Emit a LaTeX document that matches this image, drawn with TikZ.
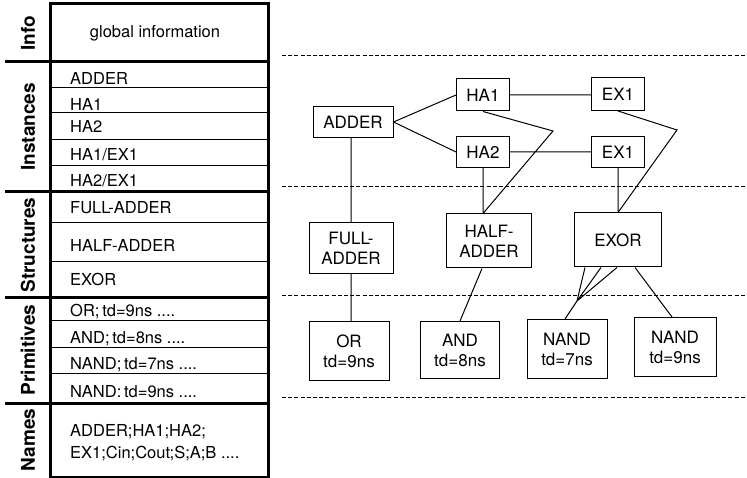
\documentclass[tikz,border=0pt]{standalone}
\usepackage{fontspec}
\setmainfont{TeX Gyre Heros}

\begin{document}
\begin{tikzpicture}[x=1pt,y=-1pt,
        box/.style={draw,line width=1pt,inner sep=0pt,align=center,
          font=\fontsize{17}{20}\selectfont},
        entry/.style={anchor=base west,inner sep=0pt,font=\fontsize{16.5}{19}\selectfont},
        part/.style={rotate=90,inner sep=0pt,font=\bfseries\fontsize{19}{22}\selectfont},
        rule/.style={line width=3pt},
        level/.style={line width=1pt,dash pattern=on 4pt off 2.2pt}]
        \useasboundingbox (0,0) rectangle (747,478);
        % the table
        \draw[rule] (50,4) -- (268,4) -- (268,477) -- (50,477) -- cycle;
        \draw[rule] (5,62) -- (268,62) (5,192) -- (268,192)
              (5,298) -- (268,298) (5,403) -- (268,403);
        \draw[line width=1pt] (50,88) -- (268,88) (50,113) -- (268,113)
              (50,140) -- (268,140) (50,166) -- (268,166)
              (50,223) -- (268,223) (50,262) -- (268,262)
              (50,321) -- (268,321) (50,347) -- (268,347) (50,373) -- (268,373);
        \node[part] (l1) at (28,33) {Info};
        \node[part] (l2) at (28,127) {Instances};
        \node[part] (l3) at (28,245) {Structures};
        \node[part] (l4) at (28,350) {Primitives};
        \node[part] (l5) at (28,440) {Names};
        \node[inner sep=0pt,font=\fontsize{16.5}{19}\selectfont] (t0) at (155,33) {global information};
        \node[entry] (t1) at (70,85) {ADDER};
        \node[entry] (t2) at (70,111) {HA1};
        \node[entry] (t3) at (70,133) {HA2};
        \node[entry] (t4) at (70,161) {HA1/EX1};
        \node[entry] (t5) at (70,187) {HA2/EX1};
        \node[entry] (t6) at (70,214) {FULL-ADDER};
        \node[entry] (t7) at (70,252) {HALF-ADDER};
        \node[entry] (t8) at (70,286) {EXOR};
        \node[entry] (t9) at (70,317) {OR;\,td=9ns ....};
        \node[entry] (t10) at (70,343) {AND;\,td=8ns ....};
        \node[entry] (t11) at (70,370) {NAND;\,td=7ns ....};
        \node[entry] (t12) at (70,397) {NAND:\,td=9ns ....};
        \node[entry] (t13) at (70,436) {ADDER;HA1;HA2;};
        \node[entry] (t14) at (70,458) {EX1;Cin;Cout;S;A;B ....};
        % the levels
        \draw[level] (282,56) -- (747,56) (282,187) -- (747,187)
              (282,296) -- (747,296) (282,397) -- (747,397);
        % the instance tree
        \node[box,minimum width=80pt,minimum height=31pt] (r2c1) at (353,122) {ADDER};
        \node[box,minimum width=53pt,minimum height=32pt] (r1c2) at (483,95) {HA1};
        \node[box,minimum width=53pt,minimum height=31pt] (r3c2) at (483,152) {HA2};
        \node[box,minimum width=53pt,minimum height=33pt] (r1c3) at (618,94) {EX1};
        \node[box,minimum width=53pt,minimum height=31pt] (r3c3) at (618,152) {EX1};
        \node[box,minimum width=84pt,minimum height=51pt] (r4c1) at (351,248) {FULL-\\ADDER};
        \node[box,minimum width=85pt,minimum height=54pt] (r4c2) at (489,241) {HALF-\\ADDER};
        \node[box,minimum width=87pt,minimum height=54pt] (r4c3) at (618,240) {EXOR};
        \node[box,minimum width=80pt,minimum height=58pt] (r5c1) at (349,351) {OR\\td=9ns};
        \node[box,minimum width=79pt,minimum height=57pt] (r5c2) at (460,350) {AND\\td=8ns};
        \node[box,minimum width=80pt,minimum height=59pt] (r5c3) at (567,349) {NAND\\td=7ns};
        \node[box,minimum width=82pt,minimum height=59pt] (r5c4) at (675,347) {NAND\\td=9ns};
        \coordinate (k1) at (553,131);
        \coordinate (k2) at (677,130);
        \coordinate (k3) at (577,301);
        \draw[line width=1pt] (r2c1.east) -- (r1c2.west)
              (r2c1.east) -- (r3c2.west)
              (r1c2.east) -- (r1c2.east -| r1c3.west)
              (r3c2) -- (r3c3)
              (r2c1.south -| r4c1.north) -- (r4c1.north)
              (r4c1.south) -- (r5c1.north -| r4c1.south)
              (r1c2.south) -- (k1) -- (r3c2.south |- r4c2.north)
              (r3c2.south) -- (r3c2.south |- r4c2.north)
              (r1c3.south) -- (k2) -- (r4c3.north)
              (r3c3.south) -- (r4c3.north)
              ([xshift=-7pt]r4c2.south) -- (r5c2.north)
              ([xshift=-33pt]r4c3.south) -- (k3)
              ([xshift=-17pt]r4c3.south) -- (k3)
              ([xshift=-1pt]r4c3.south) -- (k3) -- ([xshift=-2pt]r5c3.north)
              ([xshift=17pt]r4c3.south) -- ([xshift=-3pt]r5c4.north);
      \end{tikzpicture}
\end{document}
